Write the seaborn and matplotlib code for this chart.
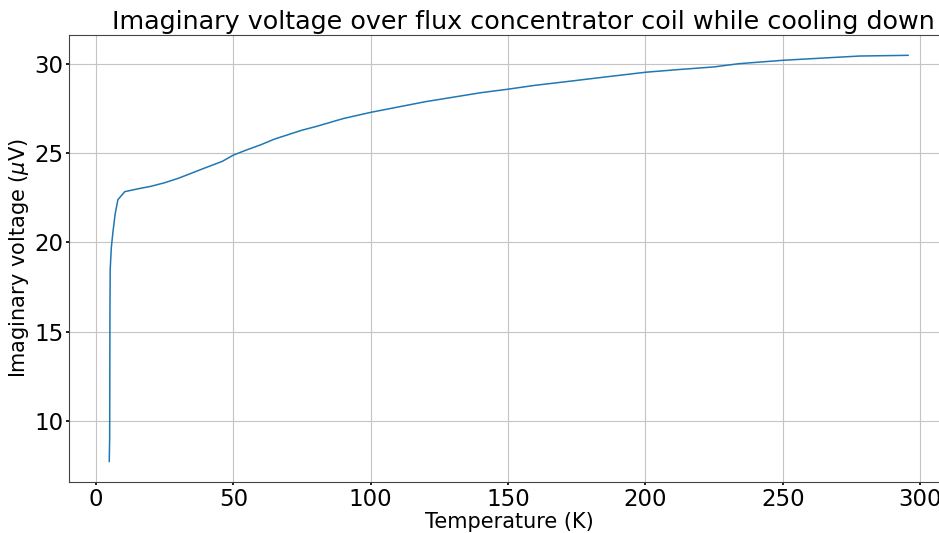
import matplotlib
matplotlib.use("Agg")
import matplotlib.pyplot as plt
import seaborn as sns
import pandas as pd

temperature = [4.85, 5.0, 5.05, 5.1, 5.2, 5.6, 6.2, 7.0, 8.0, 10.5, 15, 20, 25, 30, 35, 40, 46,
               50, 55, 60, 65, 70, 75, 80, 90, 100, 110, 120, 130, 140, 150, 160, 170,
               183.5, 200, 212, 225, 234, 250, 265, 278, 295.7]
voltage = [7.7, 9.0, 12.0, 16.0, 18.5, 19.7, 20.6, 21.6, 22.4, 22.85, 23.0, 23.15, 23.35, 23.6,
           23.9, 24.2, 24.55, 24.9, 25.2, 25.48, 25.8, 26.05, 26.3, 26.5, 26.95, 27.3, 27.6,
           27.9, 28.15, 28.4, 28.6, 28.82, 29.0, 29.25, 29.55, 29.7, 29.85, 30.03, 30.22,
           30.35, 30.46, 30.5]

df = pd.DataFrame({"Temperature (K)": temperature, "Imaginary voltage": voltage})

sns.set_theme(style="whitegrid", rc={
    "axes.edgecolor": "#444444",
    "axes.linewidth": 0.8,
    "grid.color": "#c4c4c4",
    "grid.linewidth": 0.8,
    "xtick.bottom": True,
    "ytick.left": True,
    "xtick.major.size": 2.5,
    "ytick.major.size": 2.5,
    "xtick.major.pad": 1.5,
    "ytick.major.pad": 1.5,
    "xtick.color": "black",
    "ytick.color": "black",
    "axes.labelcolor": "black",
    "text.color": "black",
})
plt.rcParams["font.family"] = ["DejaVu Sans"]

fig = plt.figure(figsize=(9.39, 5.33), dpi=100)
# axes extends past the right edge of the canvas (as in the cropped reference)
left_px, right_px = 69, 977
ax = fig.add_axes([left_px / 939, (533 - 482) / 533, (right_px - left_px) / 939, (482 - 35) / 533])

sns.lineplot(data=df, x="Temperature (K)", y="Imaginary voltage", ax=ax,
             sort=False, estimator=None, color="#1f77b4", linewidth=1.1)

ax.set_xlim(-9.8, 320.7)
ax.set_ylim(6.56, 31.64)
ax.set_xticks([0, 50, 100, 150, 200, 250, 300])
ax.set_yticks([10, 15, 20, 25, 30])
ax.tick_params(labelsize=16.5)
ax.set_xlabel("Temperature (K)", fontsize=15, labelpad=2)
ax.xaxis.set_label_coords((509 - left_px) / (right_px - left_px), -0.067)
ax.set_ylabel(r"Imaginary voltage ($\mu$V)", fontsize=15, labelpad=2)
ax.set_title("Imaginary voltage over flux concentrator coil while cooling down", fontsize=18.3, pad=4)

fig.savefig("out.png", dpi=100)
